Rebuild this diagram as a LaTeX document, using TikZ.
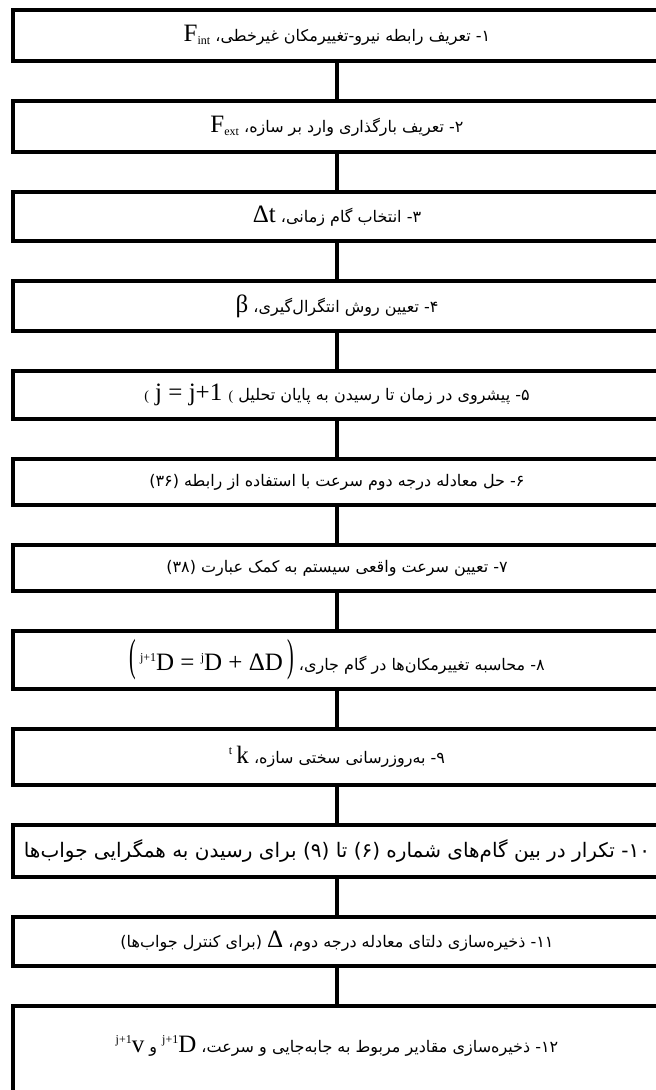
\documentclass[tikz,border=0pt]{standalone}
\usepackage{fontspec}
\usetikzlibrary{positioning}
\TeXXeTstate=1
\newfontfamily\farsi[Script=Arabic]{DejaVu Sans}
\newfontfamily\tms{Liberation Serif}
\newcommand{\fa}[1]{{\farsi\fontsize{16}{19}\selectfont\beginR #1\endR}}
\newcommand{\lat}[1]{\beginL{\tms\fontsize{25}{27}\selectfont #1}\endL}
\newcommand{\sml}[1]{{\tms\fontsize{14}{15}\selectfont #1}}
\newcommand{\lo}[1]{\raisebox{-3pt}{\tms\fontsize{12}{12}\selectfont #1}}
\newcommand{\hi}[1]{\raisebox{9pt}{\tms\fontsize{12}{12}\selectfont #1}}

\begin{document}
\begin{tikzpicture}[x=1pt, y=1pt,
  stepbox/.style={draw, line width=4pt, minimum width=648pt,
                  inner sep=0pt, outer sep=0pt, align=center},
  link/.style={line width=3.5pt},
]
  \path[use as bounding box] (0,0) rectangle (656,-1090);
  \clip (0,0) rectangle (656,-1090);
  \node[stepbox, minimum height=51pt] (s1) at (337,-35.5)
    {\fa{۱- تعریف رابطه نیرو-تغییرمکان غیرخطی، \lat{F\lo{int}}}};
  \node[stepbox, minimum height=51pt, below=40pt of s1] (s2)
    {\fa{۲- تعریف بارگذاری وارد بر سازه، \lat{F\lo{ext}}}};
  \node[stepbox, minimum height=49pt, below=40pt of s2] (s3)
    {\fa{۳- انتخاب گام زمانی، \lat{Δt}}};
  \node[stepbox, minimum height=50pt, below=40pt of s3] (s4)
    {\fa{۴- تعیین روش انتگرال‌گیری، \lat{β}}};
  \node[stepbox, minimum height=48pt, below=40pt of s4] (s5)
    {\fa{۵- پیشروی در زمان تا رسیدن به پایان تحلیل \lat{\sml{(} j = j+1 \sml{(}}}};
  \node[stepbox, minimum height=46pt, below=40pt of s5] (s6)
    {\fa{۶- حل معادله درجه دوم سرعت با استفاده از رابطه (۳۶)}};
  \node[stepbox, minimum height=46pt, below=40pt of s6] (s7)
    {\fa{۷- تعیین سرعت واقعی سیستم به کمک عبارت (۳۸)}};
  \node[stepbox, minimum height=58pt, below=40pt of s7] (s8)
    {\fa{۸- محاسبه تغییرمکان‌ها در گام جاری، \lat{\scalebox{0.8}[1.8]{(}\,\hi{j+1}D = \hi{j}D + ΔD\,\scalebox{0.8}[1.8]{)}}}};
  \node[stepbox, minimum height=56pt, below=40pt of s8] (s9)
    {\fa{۹- به‌روزرسانی سختی سازه، \lat{\hi{t}\,k}}};
  \node[stepbox, minimum height=52pt, below=40pt of s9] (s10)
    {{\farsi\fontsize{20}{23}\selectfont\beginR ۱۰- تکرار در بین گام‌های شماره (۶) تا (۹) برای رسیدن به همگرایی جواب‌ها\endR}};
  \node[stepbox, minimum height=49pt, below=40pt of s10] (s11)
    {\fa{۱۱- ذخیره‌سازی دلتای معادله درجه دوم، \lat{Δ} (برای کنترل جواب‌ها)}};
  % last box runs past the bottom edge
  \node[stepbox, text height=46pt, text depth=52pt, below=40pt of s11] (s12)
    {\fa{۱۲- ذخیره‌سازی مقادیر مربوط به جابه‌جایی و سرعت، \lat{\hi{j+1}D} و \lat{\hi{j+1}v}}};
  \draw[link] (s1) -- (s2);
  \draw[link] (s2) -- (s3);
  \draw[link] (s3) -- (s4);
  \draw[link] (s4) -- (s5);
  \draw[link] (s5) -- (s6);
  \draw[link] (s6) -- (s7);
  \draw[link] (s7) -- (s8);
  \draw[link] (s8) -- (s9);
  \draw[link] (s9) -- (s10);
  \draw[link] (s10) -- (s11);
  \draw[link] (s11) -- (s12);
\end{tikzpicture}
\end{document}
